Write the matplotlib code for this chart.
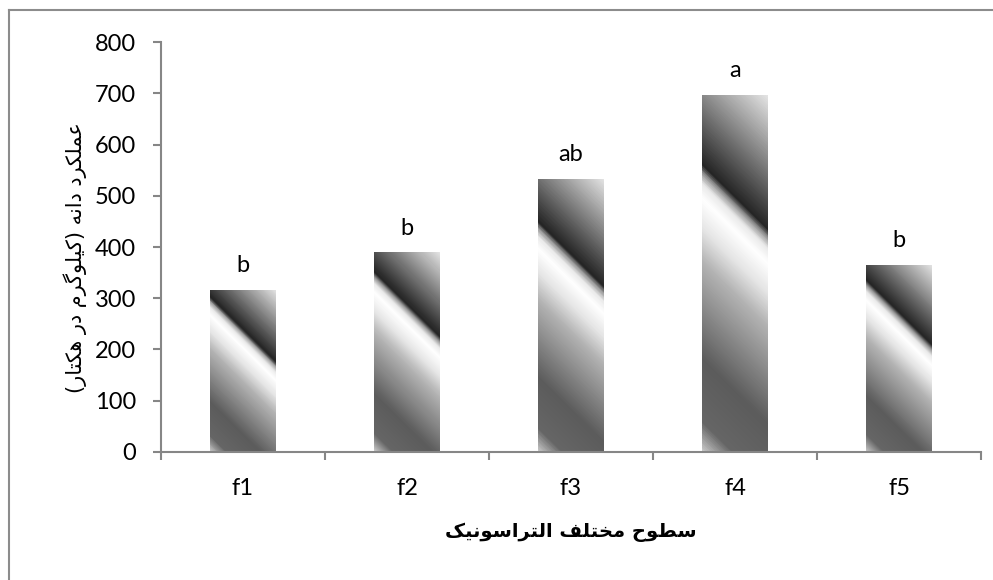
import matplotlib
matplotlib.use("Agg")
import matplotlib.pyplot as plt
import numpy as np
from matplotlib.colors import LinearSegmentedColormap
from matplotlib.lines import Line2D

# data
levels = ["f1", "f2", "f3", "f4", "f5"]
grain_yield = [316, 389, 533, 696, 365]
groups = ["b", "b", "ab", "a", "b"]

y_label = "عملکرد دانه (کیلوگرم در هکتار)"
x_label = "سطوح مختلف التراسونیک"

# minimal persian shaping (matplotlib does no arabic joining / bidi)
FORMS = {
    "ا": ("\uFE8D", "\uFE8E", None, None),
    "د": ("\uFEA9", "\uFEAA", None, None),
    "ر": ("\uFEAD", "\uFEAE", None, None),
    "و": ("\uFEED", "\uFEEE", None, None),
    "ع": ("\uFEC9", "\uFECA", "\uFECB", "\uFECC"),
    "م": ("\uFEE1", "\uFEE2", "\uFEE3", "\uFEE4"),
    "ل": ("\uFEDD", "\uFEDE", "\uFEDF", "\uFEE0"),
    "ن": ("\uFEE5", "\uFEE6", "\uFEE7", "\uFEE8"),
    "ه": ("\uFEE9", "\uFEEA", "\uFEEB", "\uFEEC"),
    "ت": ("\uFE95", "\uFE96", "\uFE97", "\uFE98"),
    "س": ("\uFEB1", "\uFEB2", "\uFEB3", "\uFEB4"),
    "ط": ("\uFEC1", "\uFEC2", "\uFEC3", "\uFEC4"),
    "ح": ("\uFEA1", "\uFEA2", "\uFEA3", "\uFEA4"),
    "خ": ("\uFEA5", "\uFEA6", "\uFEA7", "\uFEA8"),
    "ف": ("\uFED1", "\uFED2", "\uFED3", "\uFED4"),
    "ک": ("\uFB8E", "\uFB8F", "\uFB90", "\uFB91"),
    "گ": ("\uFB92", "\uFB93", "\uFB94", "\uFB95"),
    "ی": ("\uFBFC", "\uFBFD", "\uFBFE", "\uFBFF"),
}


def shape(text):
    out = []
    for i, ch in enumerate(text):
        if ch not in FORMS:
            out.append(ch)
            continue
        iso, fin, ini, med = FORMS[ch]
        prev = text[i - 1] if i > 0 else ""
        nxt = text[i + 1] if i < len(text) - 1 else ""
        join_prev = prev in FORMS and FORMS[prev][2] is not None
        join_next = ini is not None and nxt in FORMS
        if join_prev and join_next:
            out.append(med)
        elif join_prev:
            out.append(fin)
        elif join_next:
            out.append(ini)
        else:
            out.append(iso)
    s = "".join(reversed(out))
    return s.translate(str.maketrans("()", ")("))


plt.rcParams["font.family"] = ["Lato", "DejaVu Sans"]

# diagonal gradient like the office preset fill
stops = [(0.00, 0.80), (0.07, 0.40), (0.22, 0.36), (0.45, 0.70), (0.53, 0.90),
         (0.60, 1.00), (0.635, 0.92), (0.66, 0.60), (0.68, 0.14), (1.00, 0.90)]
cmap = LinearSegmentedColormap.from_list("bar_grad", [(t, (g, g, g)) for t, g in stops])

fig = plt.figure(figsize=(9.93, 5.8), dpi=100)
ax = fig.add_axes([161 / 993, 1 - 451.7 / 580, 820 / 993, (451.7 - 42.3) / 580])
ax.set_xlim(0, 5)
ax.set_ylim(0, 800)

width = 0.4
for i, v in enumerate(grain_yield):
    x0 = i + 0.5 - width / 2
    x1 = i + 0.5 + width / 2
    p0 = ax.transData.transform((x0, 0))
    p1 = ax.transData.transform((x1, v))
    w, h = p1[0] - p0[0], p1[1] - p0[1]
    xx, yy = np.meshgrid(np.arange(int(w)) + 0.5, np.arange(int(h)) + 0.5)
    t = (xx + yy) / (w + h)
    ax.imshow(t, cmap=cmap, vmin=0, vmax=1, extent=(x0, x1, 0, v),
              origin="lower", aspect="auto", interpolation="bilinear", zorder=2)
    ax.annotate(groups[i], (i + 0.5, v), xytext=(0, 13), textcoords="offset points",
                ha="center", va="baseline", fontsize=17, color="black")

ax.set_xlim(0, 5)
ax.set_ylim(0, 800)

axis_gray = "#868686"
for side in ["top", "right"]:
    ax.spines[side].set_visible(False)
for side in ["left", "bottom"]:
    ax.spines[side].set_color(axis_gray)
    ax.spines[side].set_linewidth(1.5)

ax.set_yticks(np.arange(0, 801, 100))
ax.tick_params(axis="y", length=6, width=1.5, color=axis_gray, pad=12, labelsize=17)
ax.set_xticks(np.arange(0, 6))
ax.set_xticklabels([])
ax.tick_params(axis="x", which="major", length=6, width=1.5, color=axis_gray)
ax.set_xticks(np.arange(5) + 0.5, minor=True)
ax.set_xticklabels(levels, minor=True)
ax.tick_params(axis="x", which="minor", length=0, pad=19, labelsize=17)

fig.text(75 / 993, 1 - 258 / 580, shape(y_label), rotation=90, ha="center", va="center",
         fontsize=15, family="DejaVu Sans")
fig.text(571 / 993, 1 - 532 / 580, shape(x_label), ha="center", va="center",
         fontsize=14, fontweight="bold", family="DejaVu Sans")

# outer chart frame (cropped on right and bottom in the reference)
frame_gray = "#8c8c8c"
fig.add_artist(Line2D([8.5 / 993, 8.5 / 993], [0, 1 - 10 / 580], color=frame_gray, lw=1.5))
fig.add_artist(Line2D([8.5 / 993, 1], [1 - 10 / 580, 1 - 10 / 580], color=frame_gray, lw=1.5))

fig.savefig("out.png", dpi=100)
